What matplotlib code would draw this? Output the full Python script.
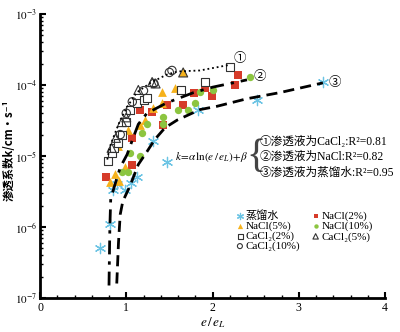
import matplotlib
matplotlib.use("Agg")
import matplotlib.pyplot as plt
from matplotlib.ticker import LogLocator, MultipleLocator, NullFormatter

plt.rcParams['font.family'] = ['Liberation Serif', 'Noto Sans CJK SC', 'DejaVu Serif']
plt.rcParams['mathtext.fontset'] = 'stix'

# ---- data ----
water_x = [0.70, 0.81, 0.85, 0.89, 0.98, 1.05, 1.12, 1.31, 1.47, 1.83, 2.52, 3.28]
water_k = [5e-7, 1.1e-6, 3.3e-6, 4.0e-6, 3.3e-6, 4.2e-6, 5.0e-6, 1.6e-5, 8.3e-6, 4.5e-5, 6.2e-5, 1.1e-4]

nacl2_x = [0.77, 1.07, 1.07, 1.16, 1.30, 1.43, 1.47, 1.66, 1.78, 1.91, 1.99, 2.26, 2.30]
nacl2_k = [5e-6, 7.5e-6, 1.8e-5, 4.5e-5, 4.1e-5, 2.7e-5, 5.2e-5, 5.2e-5, 7.8e-5, 9.0e-5, 6.9e-5, 1.0e-4, 1.4e-4]

nacl5_x = [0.81, 0.87, 0.92, 0.99, 0.90, 1.02, 1.16, 1.22, 1.31, 1.41, 1.41, 1.57, 1.66, 1.62]
nacl5_k = [4.3e-6, 5.5e-6, 4.5e-6, 6.9e-6, 1.4e-5, 2.3e-5, 2.7e-5, 3.2e-5, 4.8e-5, 8.0e-5, 5.5e-5, 9.0e-5, 1.5e-4, 8.5e-5]

nacl10_x = [0.95, 1.02, 1.04, 1.16, 1.18, 1.24, 1.43, 1.43, 1.60, 1.72, 1.80, 1.86, 2.00, 2.43]
nacl10_k = [6e-6, 6e-6, 1.1e-5, 1.0e-5, 2.1e-5, 2.8e-5, 3.5e-5, 2.8e-5, 4.5e-5, 4.5e-5, 5.6e-5, 8.0e-5, 8.5e-5, 1.3e-4]

cacl2_x = [0.79, 0.83, 0.86, 0.91, 0.95, 1.00, 1.04, 1.12, 1.20, 1.24, 1.64, 1.91, 2.20]
cacl2_k = [8.5e-6, 1.1e-5, 1.3e-5, 1.5e-5, 2.0e-5, 3.0e-5, 4.5e-5, 5.5e-5, 6.2e-5, 6.5e-5, 8.6e-5, 1.1e-4, 1.8e-4]

cacl5_x = [0.83, 0.88, 0.95, 1.00, 1.14, 1.30, 1.34, 1.66]
cacl5_k = [1.3e-5, 1.8e-5, 3.0e-5, 3.5e-5, 8.5e-5, 1.1e-4, 1.05e-4, 1.5e-4]

cacl10_x = [0.93, 1.00, 1.07, 1.20, 1.32, 1.50, 1.53]
cacl10_k = [2.0e-5, 4.0e-5, 5.8e-5, 8.3e-5, 1.05e-4, 1.5e-4, 1.6e-4]

# fitted curves
fit1_x = [0.78, 0.81, 0.87, 0.93, 1.01, 1.12, 1.28, 1.47, 1.60, 1.855, 2.18]
fit1_k = [8.9e-6, 1.35e-5, 2.1e-5, 3.2e-5, 4.9e-5, 7.8e-5, 1.07e-4, 1.4e-4, 1.55e-4, 1.6e-4, 1.9e-4]

fit2_x = [0.80, 0.81, 0.82, 0.87, 0.93, 1.01, 1.08, 1.14, 1.24, 1.47, 1.78, 2.00, 2.40]
fit2_k = [1.5e-7, 1.0e-6, 2.5e-6, 4.0e-6, 6.9e-6, 1.05e-5, 1.8e-5, 2.8e-5, 4.0e-5, 5.6e-5, 7.8e-5, 9.3e-5, 1.18e-4]

fit3_x = [0.89, 0.91, 0.93, 0.96, 1.04, 1.14, 1.24, 1.33, 1.45, 1.59, 1.855, 2.05, 2.40, 2.78, 3.28]
fit3_k = [1.6e-7, 6e-7, 1.5e-6, 2.3e-6, 3.7e-6, 7.6e-6, 1.15e-5, 1.7e-5, 2.5e-5, 3.2e-5, 4.5e-5, 5.0e-5, 6.4e-5, 7.8e-5, 1.07e-4]

x_ticks = [0, 1, 2, 3, 4]
y_ticks = [1e-7, 1e-6, 1e-5, 1e-4, 1e-3]
y_ticklabels = [r'$10^{-7}$', r'$10^{-6}$', r'$10^{-5}$', r'$10^{-4}$', r'$10^{-3}$']

legend_labels = ['蒸馏水', 'NaCl(2%)', 'NaCl(5%)', 'NaCl(10%)',
                 'CaCl₂(2%)', 'CaCl₂(5%)', 'CaCl₂(10%)']
fit_labels = ['①渗透液为CaCl₂:R²=0.81',
              '②渗透液为NaCl:R²=0.82',
              '③渗透液为蒸馏水:R²=0.95']
fit_label_k = [1.58e-5, 9.8e-6, 5.9e-6]

# ---- figure ----
fig = plt.figure(figsize=(4.0, 3.32), dpi=100)
ax = fig.add_axes([0.1, 0.1024, 0.8625, 0.8556])
ax.set_yscale('log')
ax.set_xlim(0, 4)
ax.set_ylim(1e-7, 1e-3)

c_blue = '#6cc4e4'
c_red = '#d63b2a'
c_orange = '#f6b21c'
c_green = '#8cc540'

ms = 28
h_water = ax.scatter(water_x, water_k, marker=(6, 2, 0), s=55, color=c_blue, linewidths=0.9, zorder=3)
h_n2 = ax.scatter(nacl2_x, nacl2_k, marker='s', s=ms, color=c_red, linewidths=0, zorder=3)
h_n5 = ax.scatter(nacl5_x, nacl5_k, marker='^', s=40, color=c_orange, linewidths=0, zorder=3)
h_n10 = ax.scatter(nacl10_x, nacl10_k, marker='o', s=ms, color=c_green, linewidths=0, zorder=3)
h_c2 = ax.scatter(cacl2_x, cacl2_k, marker='s', s=36, facecolors='white', edgecolors='#333333', linewidths=0.8, zorder=4)
h_c5 = ax.scatter(cacl5_x, cacl5_k, marker='^', s=42, facecolors='none', edgecolors='#333333', linewidths=0.8, zorder=4)
h_c10 = ax.scatter(cacl10_x, cacl10_k, marker='o', s=36, facecolors='none', edgecolors='#333333', linewidths=0.8, zorder=4)

ax.plot(fit1_x, fit1_k, color='black', lw=1.3, linestyle=(0, (1, 1.6)), zorder=5)
ax.plot(fit2_x, fit2_k, color='black', lw=2.0, linestyle=(0, (5, 2.5, 1.2, 2.5)), zorder=5)
ax.plot(fit3_x, fit3_k, color='black', lw=2.0, linestyle=(0, (4, 2.2)), zorder=5)

# curve labels
cjk = ['Noto Sans CJK SC']
ax.text(fit1_x[-1] + 0.06, fit1_k[-1] * 1.25, '①', fontsize=9, ha='left', va='center', family=cjk)
ax.text(fit2_x[-1] + 0.08, fit2_k[-1] * 1.1, '②', fontsize=9, ha='left', va='center', family=cjk)
ax.text(fit3_x[-1] + 0.07, fit3_k[-1] * 1.02, '③', fontsize=9, ha='left', va='center', family=cjk)

# spines / ticks
for s in ['top', 'right']:
    ax.spines[s].set_visible(False)
ax.spines['left'].set_linewidth(2.0)
ax.spines['bottom'].set_linewidth(2.0)
ax.set_xticks(x_ticks)
ax.set_xticklabels([str(t) for t in x_ticks])
ax.xaxis.set_minor_locator(MultipleLocator(0.2))
ax.set_yticks(y_ticks)
ax.set_yticklabels(y_ticklabels)
ax.yaxis.set_minor_locator(LogLocator(base=10, subs=range(2, 10)))
ax.yaxis.set_minor_formatter(NullFormatter())
ax.tick_params(axis='both', which='major', direction='in', length=4, width=1.5, labelsize=8.5, pad=3)
ax.tick_params(axis='y', which='major', labelsize=8, pad=2)
ax.tick_params(axis='both', which='minor', direction='in', length=2.5, width=1.0)

ax.set_xlabel(r'$e\,/\,e_L$', fontsize=9.5, labelpad=1)
ax.set_ylabel('渗透系数k/cm·s⁻¹', fontsize=8.2, fontweight='bold',
              family=['Noto Sans CJK SC', 'DejaVu Sans'])
ax.yaxis.set_label_coords(-0.07, 0.52)

# formula with brace
ax.text(1.56, 9.6e-6, r'$k\!=\!\alpha\,\mathrm{ln}(e\,/\,e_L)\!+\!\beta$', fontsize=8, ha='left', va='center')
ax.text(2.50, 9.6e-6, '{', fontsize=29, ha='center', va='center', family=['Liberation Serif'],
        color='#444444')
for lab, kk in zip(fit_labels, fit_label_k):
    ax.text(2.545, kk, lab, fontsize=8.4, ha='left', va='center')

# legend
handles = [h_water, h_n2, h_n5, h_n10, h_c2, h_c5, h_c10]
order = [0, 2, 4, 6, 1, 3, 5]
leg = ax.legend([handles[i] for i in order], [legend_labels[i] for i in order],
                ncol=2, loc='upper left', bbox_to_anchor=(0.544, 0.34),
                fontsize=8, frameon=False,
                handlelength=0.6, handletextpad=0.2, columnspacing=1.1,
                labelspacing=0.0, borderpad=0.3, markerscale=0.6)

fig.savefig('out.png', dpi=100)
